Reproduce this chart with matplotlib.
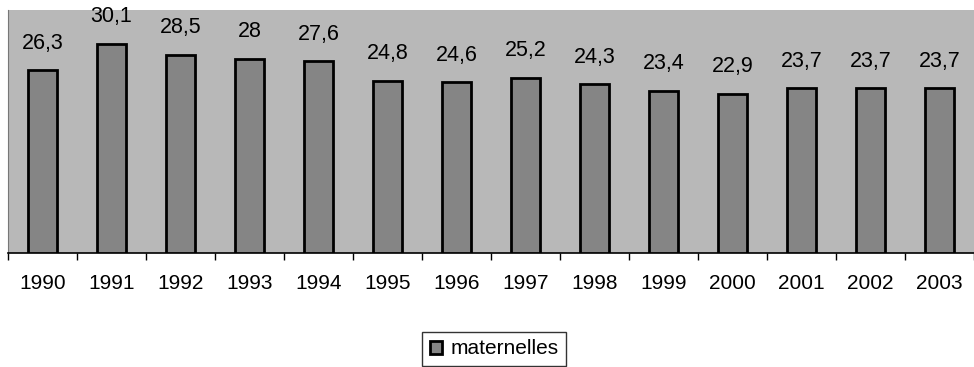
import matplotlib.pyplot as plt
import numpy as np

plt.rcParams['font.family'] = ['Liberation Sans', 'DejaVu Sans']

years = ['1990', '1991', '1992', '1993', '1994', '1995', '1996',
         '1997', '1998', '1999', '2000', '2001', '2002', '2003']
values = [26.3, 30.1, 28.5, 28, 27.6, 24.8, 24.6,
          25.2, 24.3, 23.4, 22.9, 23.7, 23.7, 23.7]
labels = ['26,3', '30,1', '28,5', '28', '27,6', '24,8', '24,6',
          '25,2', '24,3', '23,4', '22,9', '23,7', '23,7', '23,7']
series_name = 'maternelles'

fig = plt.figure(figsize=(9.74, 3.67), dpi=100)
ax = fig.add_axes([8 / 974, 1 - 253 / 367, 1 - 8 / 974, (253 - 10) / 367])

x = np.arange(len(years))
bars = ax.bar(x, values, width=0.43, color='#858585', edgecolor='black',
              linewidth=2, label=series_name, zorder=3)

for xi, v, lab in zip(x, values, labels):
    ax.annotate(lab, (xi, v), xytext=(0, 12), textcoords='offset points',
                ha='center', va='bottom', fontsize=15.5, color='black')

ax.set_facecolor('#b8b8b8')
ax.set_xlim(-0.5, len(years) - 0.5)
ax.set_ylim(0, 35)
ax.set_yticks([])
ax.set_xticks(x)
ax.set_xticklabels(years, fontsize=15)
ax.set_xticks(np.arange(-0.5, len(years), 1), minor=True)
ax.tick_params(axis='x', which='major', length=0, pad=15)
ax.tick_params(axis='x', which='minor', length=5, width=1, color='black')
for s in ['top', 'right']:
    ax.spines[s].set_visible(False)
ax.spines['left'].set_color('#777777')
ax.spines['bottom'].set_linewidth(1.2)

leg = fig.legend(handles=[bars], labels=[series_name], loc='center',
                 bbox_to_anchor=(494 / 974, 1 - 349 / 367), fontsize=15,
                 frameon=True, fancybox=False, edgecolor='black',
                 handlelength=0.6, handleheight=0.6, handletextpad=0.4,
                 borderpad=0.35)
leg.get_frame().set_linewidth(1)

fig.savefig('out.png', dpi=100)
